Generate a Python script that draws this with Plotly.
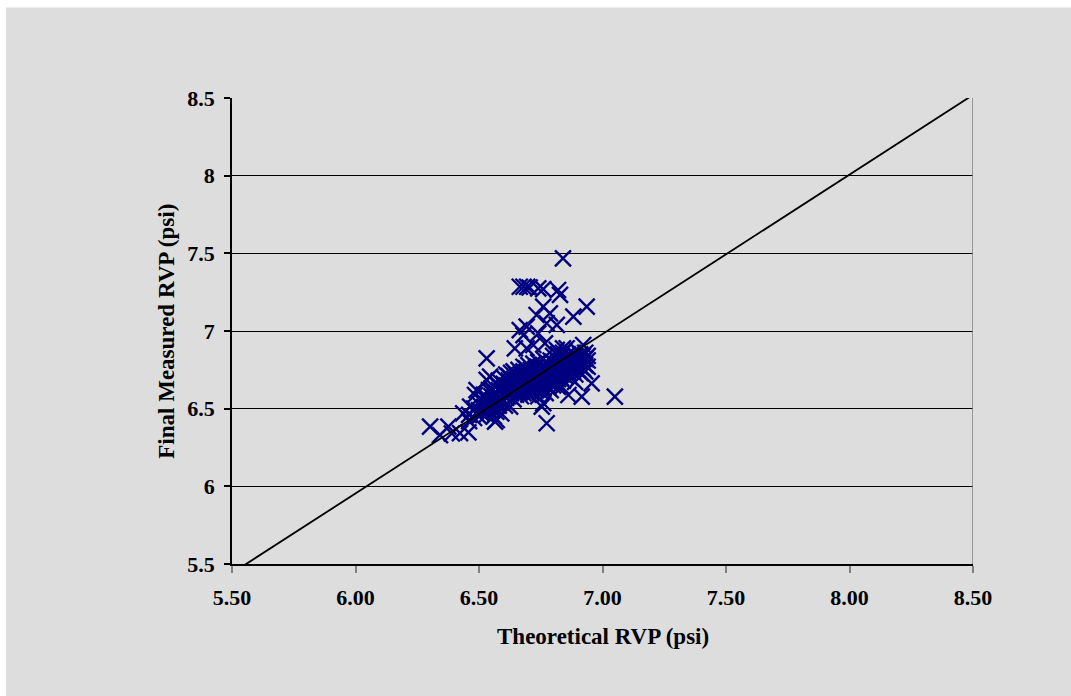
import plotly.graph_objects as go

# Theoretical RVP (psi) vs Final Measured RVP (psi)
theoretical = [
    # outliers / upper arm
    6.84, 6.665, 6.68, 6.695, 6.705, 6.74, 6.76, 6.82, 6.828, 6.936, 6.882, 6.76, 6.787,
    6.733, 6.774, 6.815, 6.693, 6.68, 6.74, 6.72, 6.767, 6.84, 6.922, 6.693, 6.645, 6.665,
    6.531, 6.855, 6.815,
    # lower-left tail
    6.302, 6.376, 6.39, 6.342, 6.457, 6.423, 6.436, 6.464, 6.484, 6.49, 6.545, 6.531,
    6.565, 6.572, 6.605, 6.626,
    # lower-right stragglers
    6.774, 6.754, 6.76, 6.862, 6.916, 6.956, 7.05, 6.889, 6.835,
    # dense lower-left
    6.46, 6.46, 6.48, 6.48, 6.50, 6.50, 6.50, 6.51, 6.51, 6.52, 6.52, 6.52,
    6.53, 6.53, 6.53, 6.54, 6.54, 6.54, 6.56, 6.56, 6.56, 6.59, 6.59,
    # dense band
    6.55, 6.55, 6.55, 6.55, 6.55,
    6.57, 6.57, 6.57, 6.57,
    6.58, 6.58, 6.58, 6.58,
    6.60, 6.60, 6.60, 6.60, 6.60,
    6.61, 6.61, 6.61, 6.61,
    6.62, 6.62, 6.62, 6.62, 6.62,
    6.63, 6.63, 6.63, 6.63,
    6.64, 6.64, 6.64, 6.64, 6.64,
    6.65, 6.65, 6.65, 6.65, 6.65,
    6.66, 6.66, 6.66, 6.66, 6.66,
    6.67, 6.67, 6.67, 6.67, 6.67,
    6.68, 6.68, 6.68, 6.68, 6.68, 6.68,
    6.69, 6.69, 6.69, 6.69, 6.69,
    6.70, 6.70, 6.70, 6.70, 6.70, 6.70,
    6.71, 6.71, 6.71, 6.71, 6.71,
    6.72, 6.72, 6.72, 6.72, 6.72, 6.72,
    6.73, 6.73, 6.73, 6.73, 6.73,
    6.74, 6.74, 6.74, 6.74, 6.74, 6.74,
    6.75, 6.75, 6.75, 6.75, 6.75,
    6.76, 6.76, 6.76, 6.76, 6.76, 6.76,
    6.77, 6.77, 6.77, 6.77, 6.77,
    6.78, 6.78, 6.78, 6.78, 6.78,
    6.79, 6.79, 6.79, 6.79, 6.79, 6.79,
    6.80, 6.80, 6.80, 6.80, 6.80, 6.80,
    6.81, 6.81, 6.81, 6.81,
    6.82, 6.82, 6.82, 6.82, 6.82, 6.82,
    6.83, 6.83, 6.83, 6.83,
    6.84, 6.84, 6.84, 6.84, 6.84,
    6.85, 6.85, 6.85, 6.85,
    6.86, 6.86, 6.86, 6.86,
    6.87, 6.87, 6.87, 6.87,
    6.88, 6.88, 6.88, 6.88,
    6.89, 6.89, 6.89, 6.89,
    6.90, 6.90, 6.90, 6.90,
    6.91, 6.91, 6.91, 6.91,
    6.92, 6.92, 6.92,
    6.93, 6.93, 6.93, 6.93,
    6.94, 6.94, 6.94,
]

measured = [
    # outliers / upper arm
    7.468, 7.285, 7.285, 7.285, 7.28, 7.275, 7.27, 7.264, 7.232, 7.157, 7.092, 7.157, 7.114,
    7.103, 7.05, 7.039, 7.028, 6.974, 6.985, 6.91, 6.92, 6.888, 6.91, 6.888, 6.888, 7.006,
    6.824, 6.889, 6.878,
    # lower-left tail
    6.384, 6.384, 6.34, 6.33, 6.347, 6.343, 6.47, 6.513, 6.588, 6.62, 6.706, 6.685,
    6.416, 6.427, 6.52, 6.513,
    # lower-right stragglers
    6.406, 6.513, 6.535, 6.588, 6.577, 6.663, 6.577, 6.673, 6.64,
    # dense lower-left
    6.42, 6.46, 6.44, 6.50, 6.45, 6.49, 6.53, 6.47, 6.56, 6.50, 6.54, 6.59,
    6.46, 6.52, 6.57, 6.49, 6.55, 6.62, 6.45, 6.51, 6.57, 6.47, 6.54,
    # dense band
    6.50, 6.55, 6.58, 6.61, 6.63,
    6.48, 6.53, 6.60, 6.66,
    6.52, 6.57, 6.62, 6.68,
    6.55, 6.59, 6.63, 6.66, 6.70,
    6.57, 6.61, 6.65, 6.72,
    6.58, 6.62, 6.64, 6.68, 6.71,
    6.60, 6.63, 6.67, 6.73,
    6.56, 6.61, 6.65, 6.69, 6.74,
    6.59, 6.63, 6.66, 6.70, 6.72,
    6.61, 6.64, 6.68, 6.71, 6.75,
    6.58, 6.62, 6.65, 6.69, 6.73,
    6.60, 6.64, 6.67, 6.70, 6.74, 6.77,
    6.62, 6.66, 6.69, 6.72, 6.76,
    6.59, 6.63, 6.67, 6.70, 6.73, 6.78,
    6.61, 6.65, 6.68, 6.71, 6.75,
    6.60, 6.64, 6.67, 6.70, 6.74, 6.79,
    6.62, 6.66, 6.69, 6.72, 6.76,
    6.58, 6.63, 6.68, 6.71, 6.74, 6.80,
    6.61, 6.65, 6.69, 6.73, 6.77,
    6.63, 6.67, 6.70, 6.74, 6.78, 6.82,
    6.60, 6.65, 6.69, 6.72, 6.76,
    6.64, 6.68, 6.71, 6.75, 6.79,
    6.62, 6.66, 6.70, 6.73, 6.77, 6.81,
    6.65, 6.69, 6.72, 6.76, 6.80, 6.84,
    6.67, 6.71, 6.74, 6.78,
    6.64, 6.69, 6.73, 6.77, 6.81, 6.85,
    6.70, 6.75, 6.79, 6.83,
    6.68, 6.72, 6.76, 6.80, 6.86,
    6.71, 6.74, 6.78, 6.82,
    6.73, 6.77, 6.81, 6.85,
    6.70, 6.75, 6.79, 6.83,
    6.74, 6.78, 6.82, 6.86,
    6.72, 6.76, 6.80, 6.84,
    6.75, 6.79, 6.83, 6.87,
    6.73, 6.77, 6.81, 6.85,
    6.76, 6.80, 6.84,
    6.74, 6.78, 6.82, 6.86,
    6.77, 6.81, 6.84,
]

# reference line end points (as drawn in the original)
line_x = [5.532, 8.50]
line_y = [5.474, 8.52]

x_ticks = [5.5, 6.0, 6.5, 7.0, 7.5, 8.0, 8.5]
y_ticks = [5.5, 6.0, 6.5, 7.0, 7.5, 8.0, 8.5]

FONT = "Liberation Serif"
GRAY_BG = "#DDDDDD"

fig = go.Figure()
fig.add_trace(go.Scatter(
    x=theoretical, y=measured, mode="markers",
    marker=dict(symbol="x-thin-open", size=16, color="#000080",
                line=dict(color="#000080", width=2.4)),
    showlegend=False, hoverinfo="x+y",
))
fig.add_trace(go.Scatter(
    x=line_x, y=line_y, mode="lines",
    line=dict(color="black", width=1.8),
    showlegend=False, hoverinfo="skip",
))

fig.update_layout(
    width=1071, height=696,
    margin=dict(l=232, r=98, t=98, b=132),
    paper_bgcolor="white",
    plot_bgcolor="rgba(0,0,0,0)",
    font=dict(family=FONT, color="black"),
    shapes=[
        dict(type="rect", xref="paper", yref="paper",
             x0=-0.305, x1=1.3, y0=-0.4, y1=1.194,
             fillcolor=GRAY_BG, line=dict(width=0), layer="below"),
        dict(type="line", xref="x", yref="paper", x0=8.5, x1=8.5, y0=0, y1=1,
             line=dict(color="#808080", width=1.5)),
    ],
    annotations=[
        dict(text="Theoretical RVP (psi)", xref="paper", yref="paper",
             x=0.5, y=-0.156, xanchor="center", yanchor="middle", showarrow=False,
             font=dict(family=FONT, size=23, color="black", weight="bold")),
        dict(text="Final Measured RVP (psi)", xref="paper", yref="paper",
             x=-0.0895, y=0.5, xanchor="center", yanchor="middle", showarrow=False,
             textangle=-90,
             font=dict(family=FONT, size=23, color="black", weight="bold")),
    ],
)

fig.update_xaxes(
    range=[5.5, 8.5], tickvals=x_ticks, tickformat=".2f",
    showgrid=False, zeroline=False,
    showline=True, linecolor="black", linewidth=1.5,
    ticks="outside", ticklen=7, tickcolor="#808080", tickwidth=1.5,
    ticklabelstandoff=6,
    tickfont=dict(family=FONT, size=22, color="black", weight="bold"),
)
fig.update_yaxes(
    range=[5.5, 8.5], tickvals=y_ticks,
    showgrid=True, gridcolor="black", gridwidth=1,
    zeroline=False,
    showline=True, linecolor="black", linewidth=1.5,
    ticks="outside", ticklen=6, tickcolor="black", tickwidth=1.5,
    ticklabelstandoff=5,
    tickfont=dict(family=FONT, size=22, color="black", weight="bold"),
)

fig.write_html("out.html")
